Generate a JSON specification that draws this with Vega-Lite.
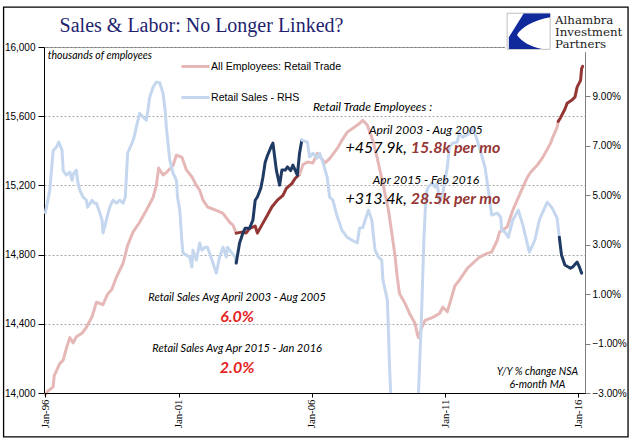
{
  "$schema": "https://vega.github.io/schema/vega-lite/v6.json",
  "width": 541,
  "height": 346,
  "autosize": {"type": "none"},
  "padding": {"left": 44, "top": 47, "right": 56, "bottom": 50},
  "background": "white",
  "datasets": {
    "emp": [
      {"date": "1996-01-01", "v": 13990, "s": "All Employees: Retail Trade", "seg": "e1"},
      {"date": "1996-02-01", "v": 14010, "s": "All Employees: Retail Trade", "seg": "e1"},
      {"date": "1996-04-01", "v": 14030, "s": "All Employees: Retail Trade", "seg": "e1"},
      {"date": "1996-04-16", "v": 14035, "s": "All Employees: Retail Trade", "seg": "e1"},
      {"date": "1996-05-01", "v": 14100, "s": "All Employees: Retail Trade", "seg": "e1"},
      {"date": "1996-07-16", "v": 14170, "s": "All Employees: Retail Trade", "seg": "e1"},
      {"date": "1996-09-01", "v": 14190, "s": "All Employees: Retail Trade", "seg": "e1"},
      {"date": "1996-10-16", "v": 14260, "s": "All Employees: Retail Trade", "seg": "e1"},
      {"date": "1996-12-01", "v": 14320, "s": "All Employees: Retail Trade", "seg": "e1"},
      {"date": "1997-01-16", "v": 14290, "s": "All Employees: Retail Trade", "seg": "e1"},
      {"date": "1997-03-01", "v": 14325, "s": "All Employees: Retail Trade", "seg": "e1"},
      {"date": "1997-05-16", "v": 14345, "s": "All Employees: Retail Trade", "seg": "e1"},
      {"date": "1997-07-16", "v": 14380, "s": "All Employees: Retail Trade", "seg": "e1"},
      {"date": "1997-10-01", "v": 14440, "s": "All Employees: Retail Trade", "seg": "e1"},
      {"date": "1997-12-01", "v": 14525, "s": "All Employees: Retail Trade", "seg": "e1"},
      {"date": "1998-03-01", "v": 14510, "s": "All Employees: Retail Trade", "seg": "e1"},
      {"date": "1998-05-01", "v": 14570, "s": "All Employees: Retail Trade", "seg": "e1"},
      {"date": "1998-07-01", "v": 14600, "s": "All Employees: Retail Trade", "seg": "e1"},
      {"date": "1998-09-01", "v": 14670, "s": "All Employees: Retail Trade", "seg": "e1"},
      {"date": "1998-12-01", "v": 14750, "s": "All Employees: Retail Trade", "seg": "e1"},
      {"date": "1999-02-01", "v": 14853, "s": "All Employees: Retail Trade", "seg": "e1"},
      {"date": "1999-04-16", "v": 14930, "s": "All Employees: Retail Trade", "seg": "e1"},
      {"date": "1999-07-16", "v": 14987, "s": "All Employees: Retail Trade", "seg": "e1"},
      {"date": "1999-10-16", "v": 15056, "s": "All Employees: Retail Trade", "seg": "e1"},
      {"date": "2000-01-16", "v": 15130, "s": "All Employees: Retail Trade", "seg": "e1"},
      {"date": "2000-03-01", "v": 15200, "s": "All Employees: Retail Trade", "seg": "e1"},
      {"date": "2000-04-01", "v": 15300, "s": "All Employees: Retail Trade", "seg": "e1"},
      {"date": "2000-06-01", "v": 15260, "s": "All Employees: Retail Trade", "seg": "e1"},
      {"date": "2000-07-16", "v": 15275, "s": "All Employees: Retail Trade", "seg": "e1"},
      {"date": "2000-10-16", "v": 15315, "s": "All Employees: Retail Trade", "seg": "e1"},
      {"date": "2000-12-01", "v": 15375, "s": "All Employees: Retail Trade", "seg": "e1"},
      {"date": "2001-02-16", "v": 15362, "s": "All Employees: Retail Trade", "seg": "e1"},
      {"date": "2001-04-16", "v": 15290, "s": "All Employees: Retail Trade", "seg": "e1"},
      {"date": "2001-07-01", "v": 15250, "s": "All Employees: Retail Trade", "seg": "e1"},
      {"date": "2001-09-01", "v": 15200, "s": "All Employees: Retail Trade", "seg": "e1"},
      {"date": "2001-10-16", "v": 15172, "s": "All Employees: Retail Trade", "seg": "e1"},
      {"date": "2001-12-01", "v": 15115, "s": "All Employees: Retail Trade", "seg": "e1"},
      {"date": "2002-02-01", "v": 15075, "s": "All Employees: Retail Trade", "seg": "e1"},
      {"date": "2002-06-01", "v": 15056, "s": "All Employees: Retail Trade", "seg": "e1"},
      {"date": "2002-09-01", "v": 15038, "s": "All Employees: Retail Trade", "seg": "e1"},
      {"date": "2002-12-01", "v": 14987, "s": "All Employees: Retail Trade", "seg": "e1"},
      {"date": "2003-01-16", "v": 14970, "s": "All Employees: Retail Trade", "seg": "e1"},
      {"date": "2003-03-01", "v": 14924, "s": "All Employees: Retail Trade", "seg": "e1"},
      {"date": "2003-03-01", "v": 14924, "s": "Retail Trade Employees (highlight)", "seg": "e2"},
      {"date": "2003-05-16", "v": 14930, "s": "Retail Trade Employees (highlight)", "seg": "e2"},
      {"date": "2003-07-16", "v": 14925, "s": "Retail Trade Employees (highlight)", "seg": "e2"},
      {"date": "2003-09-01", "v": 14952, "s": "Retail Trade Employees (highlight)", "seg": "e2"},
      {"date": "2003-11-16", "v": 14965, "s": "Retail Trade Employees (highlight)", "seg": "e2"},
      {"date": "2003-12-16", "v": 14924, "s": "Retail Trade Employees (highlight)", "seg": "e2"},
      {"date": "2004-03-01", "v": 14982, "s": "Retail Trade Employees (highlight)", "seg": "e2"},
      {"date": "2004-05-01", "v": 15027, "s": "Retail Trade Employees (highlight)", "seg": "e2"},
      {"date": "2004-07-01", "v": 15075, "s": "Retail Trade Employees (highlight)", "seg": "e2"},
      {"date": "2004-09-16", "v": 15115, "s": "Retail Trade Employees (highlight)", "seg": "e2"},
      {"date": "2004-12-01", "v": 15142, "s": "Retail Trade Employees (highlight)", "seg": "e2"},
      {"date": "2005-01-16", "v": 15183, "s": "Retail Trade Employees (highlight)", "seg": "e2"},
      {"date": "2005-04-01", "v": 15210, "s": "Retail Trade Employees (highlight)", "seg": "e2"},
      {"date": "2005-05-16", "v": 15240, "s": "Retail Trade Employees (highlight)", "seg": "e2"},
      {"date": "2005-07-16", "v": 15265, "s": "Retail Trade Employees (highlight)", "seg": "e2"},
      {"date": "2005-07-16", "v": 15265, "s": "All Employees: Retail Trade", "seg": "e3"},
      {"date": "2005-09-01", "v": 15320, "s": "All Employees: Retail Trade", "seg": "e3"},
      {"date": "2005-11-01", "v": 15335, "s": "All Employees: Retail Trade", "seg": "e3"},
      {"date": "2006-01-16", "v": 15330, "s": "All Employees: Retail Trade", "seg": "e3"},
      {"date": "2006-03-16", "v": 15385, "s": "All Employees: Retail Trade", "seg": "e3"},
      {"date": "2006-07-01", "v": 15330, "s": "All Employees: Retail Trade", "seg": "e3"},
      {"date": "2006-09-01", "v": 15355, "s": "All Employees: Retail Trade", "seg": "e3"},
      {"date": "2006-12-16", "v": 15414, "s": "All Employees: Retail Trade", "seg": "e3"},
      {"date": "2007-02-16", "v": 15460, "s": "All Employees: Retail Trade", "seg": "e3"},
      {"date": "2007-05-01", "v": 15508, "s": "All Employees: Retail Trade", "seg": "e3"},
      {"date": "2007-07-16", "v": 15530, "s": "All Employees: Retail Trade", "seg": "e3"},
      {"date": "2007-10-16", "v": 15558, "s": "All Employees: Retail Trade", "seg": "e3"},
      {"date": "2007-12-01", "v": 15576, "s": "All Employees: Retail Trade", "seg": "e3"},
      {"date": "2008-02-01", "v": 15547, "s": "All Employees: Retail Trade", "seg": "e3"},
      {"date": "2008-04-16", "v": 15460, "s": "All Employees: Retail Trade", "seg": "e3"},
      {"date": "2008-06-16", "v": 15356, "s": "All Employees: Retail Trade", "seg": "e3"},
      {"date": "2008-09-01", "v": 15210, "s": "All Employees: Retail Trade", "seg": "e3"},
      {"date": "2008-11-16", "v": 15056, "s": "All Employees: Retail Trade", "seg": "e3"},
      {"date": "2009-01-01", "v": 14924, "s": "All Employees: Retail Trade", "seg": "e3"},
      {"date": "2009-02-16", "v": 14787, "s": "All Employees: Retail Trade", "seg": "e3"},
      {"date": "2009-03-16", "v": 14670, "s": "All Employees: Retail Trade", "seg": "e3"},
      {"date": "2009-04-16", "v": 14575, "s": "All Employees: Retail Trade", "seg": "e3"},
      {"date": "2009-07-01", "v": 14518, "s": "All Employees: Retail Trade", "seg": "e3"},
      {"date": "2009-09-01", "v": 14460, "s": "All Employees: Retail Trade", "seg": "e3"},
      {"date": "2009-11-16", "v": 14402, "s": "All Employees: Retail Trade", "seg": "e3"},
      {"date": "2009-12-16", "v": 14340, "s": "All Employees: Retail Trade", "seg": "e3"},
      {"date": "2010-01-01", "v": 14320, "s": "All Employees: Retail Trade", "seg": "e3"},
      {"date": "2010-02-16", "v": 14380, "s": "All Employees: Retail Trade", "seg": "e3"},
      {"date": "2010-04-01", "v": 14420, "s": "All Employees: Retail Trade", "seg": "e3"},
      {"date": "2010-07-16", "v": 14437, "s": "All Employees: Retail Trade", "seg": "e3"},
      {"date": "2010-10-16", "v": 14460, "s": "All Employees: Retail Trade", "seg": "e3"},
      {"date": "2010-12-01", "v": 14496, "s": "All Employees: Retail Trade", "seg": "e3"},
      {"date": "2011-02-01", "v": 14470, "s": "All Employees: Retail Trade", "seg": "e3"},
      {"date": "2011-04-01", "v": 14555, "s": "All Employees: Retail Trade", "seg": "e3"},
      {"date": "2011-05-16", "v": 14620, "s": "All Employees: Retail Trade", "seg": "e3"},
      {"date": "2011-07-16", "v": 14652, "s": "All Employees: Retail Trade", "seg": "e3"},
      {"date": "2011-11-01", "v": 14720, "s": "All Employees: Retail Trade", "seg": "e3"},
      {"date": "2012-01-16", "v": 14750, "s": "All Employees: Retail Trade", "seg": "e3"},
      {"date": "2012-04-16", "v": 14785, "s": "All Employees: Retail Trade", "seg": "e3"},
      {"date": "2012-08-01", "v": 14807, "s": "All Employees: Retail Trade", "seg": "e3"},
      {"date": "2012-10-01", "v": 14815, "s": "All Employees: Retail Trade", "seg": "e3"},
      {"date": "2012-12-16", "v": 14883, "s": "All Employees: Retail Trade", "seg": "e3"},
      {"date": "2013-01-16", "v": 14930, "s": "All Employees: Retail Trade", "seg": "e3"},
      {"date": "2013-05-01", "v": 14960, "s": "All Employees: Retail Trade", "seg": "e3"},
      {"date": "2013-07-16", "v": 15056, "s": "All Employees: Retail Trade", "seg": "e3"},
      {"date": "2013-11-01", "v": 15160, "s": "All Employees: Retail Trade", "seg": "e3"},
      {"date": "2014-02-01", "v": 15246, "s": "All Employees: Retail Trade", "seg": "e3"},
      {"date": "2014-03-16", "v": 15275, "s": "All Employees: Retail Trade", "seg": "e3"},
      {"date": "2014-06-16", "v": 15316, "s": "All Employees: Retail Trade", "seg": "e3"},
      {"date": "2014-09-01", "v": 15362, "s": "All Employees: Retail Trade", "seg": "e3"},
      {"date": "2014-12-16", "v": 15443, "s": "All Employees: Retail Trade", "seg": "e3"},
      {"date": "2015-01-16", "v": 15478, "s": "All Employees: Retail Trade", "seg": "e3"},
      {"date": "2015-03-16", "v": 15535, "s": "All Employees: Retail Trade", "seg": "e3"},
      {"date": "2015-04-01", "v": 15570, "s": "All Employees: Retail Trade", "seg": "e3"},
      {"date": "2015-04-01", "v": 15570, "s": "Retail Trade Employees (highlight)", "seg": "e4"},
      {"date": "2015-05-01", "v": 15590, "s": "Retail Trade Employees (highlight)", "seg": "e4"},
      {"date": "2015-07-01", "v": 15640, "s": "Retail Trade Employees (highlight)", "seg": "e4"},
      {"date": "2015-08-01", "v": 15675, "s": "Retail Trade Employees (highlight)", "seg": "e4"},
      {"date": "2015-10-01", "v": 15692, "s": "Retail Trade Employees (highlight)", "seg": "e4"},
      {"date": "2015-11-16", "v": 15710, "s": "Retail Trade Employees (highlight)", "seg": "e4"},
      {"date": "2015-12-16", "v": 15768, "s": "Retail Trade Employees (highlight)", "seg": "e4"},
      {"date": "2016-02-01", "v": 15807, "s": "Retail Trade Employees (highlight)", "seg": "e4"},
      {"date": "2016-02-16", "v": 15876, "s": "Retail Trade Employees (highlight)", "seg": "e4"},
      {"date": "2016-03-01", "v": 15888, "s": "Retail Trade Employees (highlight)", "seg": "e4"}
    ],
    "sales": [
      {"date": "1996-01-01", "v": 4.3, "s": "Retail Sales - RHS", "seg": "s1"},
      {"date": "1996-03-01", "v": 5.2, "s": "Retail Sales - RHS", "seg": "s1"},
      {"date": "1996-04-16", "v": 6.8, "s": "Retail Sales - RHS", "seg": "s1"},
      {"date": "1996-06-01", "v": 6.95, "s": "Retail Sales - RHS", "seg": "s1"},
      {"date": "1996-07-01", "v": 7.15, "s": "Retail Sales - RHS", "seg": "s1"},
      {"date": "1996-08-16", "v": 6.83, "s": "Retail Sales - RHS", "seg": "s1"},
      {"date": "1996-09-01", "v": 6.0, "s": "Retail Sales - RHS", "seg": "s1"},
      {"date": "1996-10-16", "v": 5.82, "s": "Retail Sales - RHS", "seg": "s1"},
      {"date": "1996-12-01", "v": 5.94, "s": "Retail Sales - RHS", "seg": "s1"},
      {"date": "1997-01-01", "v": 5.61, "s": "Retail Sales - RHS", "seg": "s1"},
      {"date": "1997-01-16", "v": 5.85, "s": "Retail Sales - RHS", "seg": "s1"},
      {"date": "1997-03-01", "v": 6.02, "s": "Retail Sales - RHS", "seg": "s1"},
      {"date": "1997-03-16", "v": 5.6, "s": "Retail Sales - RHS", "seg": "s1"},
      {"date": "1997-04-16", "v": 5.21, "s": "Retail Sales - RHS", "seg": "s1"},
      {"date": "1997-06-01", "v": 4.93, "s": "Retail Sales - RHS", "seg": "s1"},
      {"date": "1997-07-16", "v": 4.8, "s": "Retail Sales - RHS", "seg": "s1"},
      {"date": "1997-08-01", "v": 4.52, "s": "Retail Sales - RHS", "seg": "s1"},
      {"date": "1997-10-01", "v": 4.8, "s": "Retail Sales - RHS", "seg": "s1"},
      {"date": "1997-11-01", "v": 4.68, "s": "Retail Sales - RHS", "seg": "s1"},
      {"date": "1997-12-01", "v": 4.68, "s": "Retail Sales - RHS", "seg": "s1"},
      {"date": "1998-01-16", "v": 4.28, "s": "Retail Sales - RHS", "seg": "s1"},
      {"date": "1998-02-16", "v": 4.0, "s": "Retail Sales - RHS", "seg": "s1"},
      {"date": "1998-03-01", "v": 3.47, "s": "Retail Sales - RHS", "seg": "s1"},
      {"date": "1998-04-16", "v": 4.0, "s": "Retail Sales - RHS", "seg": "s1"},
      {"date": "1998-06-01", "v": 4.52, "s": "Retail Sales - RHS", "seg": "s1"},
      {"date": "1998-07-16", "v": 4.8, "s": "Retail Sales - RHS", "seg": "s1"},
      {"date": "1998-09-01", "v": 4.68, "s": "Retail Sales - RHS", "seg": "s1"},
      {"date": "1998-10-16", "v": 4.8, "s": "Retail Sales - RHS", "seg": "s1"},
      {"date": "1998-12-01", "v": 4.68, "s": "Retail Sales - RHS", "seg": "s1"},
      {"date": "1999-01-01", "v": 4.93, "s": "Retail Sales - RHS", "seg": "s1"},
      {"date": "1999-02-01", "v": 6.7, "s": "Retail Sales - RHS", "seg": "s1"},
      {"date": "1999-04-01", "v": 7.1, "s": "Retail Sales - RHS", "seg": "s1"},
      {"date": "1999-05-01", "v": 7.35, "s": "Retail Sales - RHS", "seg": "s1"},
      {"date": "1999-06-01", "v": 7.76, "s": "Retail Sales - RHS", "seg": "s1"},
      {"date": "1999-07-16", "v": 8.32, "s": "Retail Sales - RHS", "seg": "s1"},
      {"date": "1999-09-01", "v": 8.16, "s": "Retail Sales - RHS", "seg": "s1"},
      {"date": "1999-10-16", "v": 8.04, "s": "Retail Sales - RHS", "seg": "s1"},
      {"date": "1999-11-01", "v": 8.32, "s": "Retail Sales - RHS", "seg": "s1"},
      {"date": "1999-12-01", "v": 8.97, "s": "Retail Sales - RHS", "seg": "s1"},
      {"date": "2000-01-16", "v": 9.37, "s": "Retail Sales - RHS", "seg": "s1"},
      {"date": "2000-03-01", "v": 9.58, "s": "Retail Sales - RHS", "seg": "s1"},
      {"date": "2000-04-16", "v": 9.55, "s": "Retail Sales - RHS", "seg": "s1"},
      {"date": "2000-06-01", "v": 9.13, "s": "Retail Sales - RHS", "seg": "s1"},
      {"date": "2000-07-01", "v": 8.4, "s": "Retail Sales - RHS", "seg": "s1"},
      {"date": "2000-07-16", "v": 7.76, "s": "Retail Sales - RHS", "seg": "s1"},
      {"date": "2000-09-01", "v": 6.42, "s": "Retail Sales - RHS", "seg": "s1"},
      {"date": "2000-10-16", "v": 5.9, "s": "Retail Sales - RHS", "seg": "s1"},
      {"date": "2000-12-01", "v": 5.61, "s": "Retail Sales - RHS", "seg": "s1"},
      {"date": "2000-12-16", "v": 4.93, "s": "Retail Sales - RHS", "seg": "s1"},
      {"date": "2001-01-16", "v": 4.4, "s": "Retail Sales - RHS", "seg": "s1"},
      {"date": "2001-02-16", "v": 3.07, "s": "Retail Sales - RHS", "seg": "s1"},
      {"date": "2001-03-01", "v": 2.66, "s": "Retail Sales - RHS", "seg": "s1"},
      {"date": "2001-04-16", "v": 2.58, "s": "Retail Sales - RHS", "seg": "s1"},
      {"date": "2001-06-01", "v": 2.5, "s": "Retail Sales - RHS", "seg": "s1"},
      {"date": "2001-07-01", "v": 2.1, "s": "Retail Sales - RHS", "seg": "s1"},
      {"date": "2001-07-16", "v": 2.78, "s": "Retail Sales - RHS", "seg": "s1"},
      {"date": "2001-09-01", "v": 2.38, "s": "Retail Sales - RHS", "seg": "s1"},
      {"date": "2001-10-16", "v": 3.07, "s": "Retail Sales - RHS", "seg": "s1"},
      {"date": "2001-11-16", "v": 2.78, "s": "Retail Sales - RHS", "seg": "s1"},
      {"date": "2002-01-01", "v": 2.9, "s": "Retail Sales - RHS", "seg": "s1"},
      {"date": "2002-02-01", "v": 2.9, "s": "Retail Sales - RHS", "seg": "s1"},
      {"date": "2002-03-01", "v": 2.66, "s": "Retail Sales - RHS", "seg": "s1"},
      {"date": "2002-04-16", "v": 2.26, "s": "Retail Sales - RHS", "seg": "s1"},
      {"date": "2002-06-01", "v": 1.85, "s": "Retail Sales - RHS", "seg": "s1"},
      {"date": "2002-07-16", "v": 2.5, "s": "Retail Sales - RHS", "seg": "s1"},
      {"date": "2002-09-01", "v": 2.9, "s": "Retail Sales - RHS", "seg": "s1"},
      {"date": "2002-10-16", "v": 2.5, "s": "Retail Sales - RHS", "seg": "s1"},
      {"date": "2002-11-01", "v": 2.9, "s": "Retail Sales - RHS", "seg": "s1"},
      {"date": "2003-01-01", "v": 2.66, "s": "Retail Sales - RHS", "seg": "s1"},
      {"date": "2003-02-16", "v": 2.5, "s": "Retail Sales - RHS", "seg": "s1"},
      {"date": "2003-03-01", "v": 2.26, "s": "Retail Sales - RHS", "seg": "s1"},
      {"date": "2003-03-01", "v": 2.26, "s": "Retail Sales (highlight)", "seg": "s2"},
      {"date": "2003-04-16", "v": 3.07, "s": "Retail Sales (highlight)", "seg": "s2"},
      {"date": "2003-06-01", "v": 3.47, "s": "Retail Sales (highlight)", "seg": "s2"},
      {"date": "2003-07-01", "v": 3.67, "s": "Retail Sales (highlight)", "seg": "s2"},
      {"date": "2003-09-01", "v": 3.67, "s": "Retail Sales (highlight)", "seg": "s2"},
      {"date": "2003-10-16", "v": 4.0, "s": "Retail Sales (highlight)", "seg": "s2"},
      {"date": "2003-11-16", "v": 4.8, "s": "Retail Sales (highlight)", "seg": "s2"},
      {"date": "2003-12-16", "v": 4.93, "s": "Retail Sales (highlight)", "seg": "s2"},
      {"date": "2004-02-01", "v": 5.29, "s": "Retail Sales (highlight)", "seg": "s2"},
      {"date": "2004-03-01", "v": 5.73, "s": "Retail Sales (highlight)", "seg": "s2"},
      {"date": "2004-04-01", "v": 6.34, "s": "Retail Sales (highlight)", "seg": "s2"},
      {"date": "2004-05-01", "v": 6.6, "s": "Retail Sales (highlight)", "seg": "s2"},
      {"date": "2004-07-01", "v": 7.03, "s": "Retail Sales (highlight)", "seg": "s2"},
      {"date": "2004-07-16", "v": 7.11, "s": "Retail Sales (highlight)", "seg": "s2"},
      {"date": "2004-09-01", "v": 6.02, "s": "Retail Sales (highlight)", "seg": "s2"},
      {"date": "2004-10-16", "v": 5.41, "s": "Retail Sales (highlight)", "seg": "s2"},
      {"date": "2004-11-16", "v": 6.02, "s": "Retail Sales (highlight)", "seg": "s2"},
      {"date": "2005-01-01", "v": 6.02, "s": "Retail Sales (highlight)", "seg": "s2"},
      {"date": "2005-02-01", "v": 6.15, "s": "Retail Sales (highlight)", "seg": "s2"},
      {"date": "2005-03-16", "v": 6.0, "s": "Retail Sales (highlight)", "seg": "s2"},
      {"date": "2005-04-16", "v": 6.22, "s": "Retail Sales (highlight)", "seg": "s2"},
      {"date": "2005-06-16", "v": 5.82, "s": "Retail Sales (highlight)", "seg": "s2"},
      {"date": "2005-07-16", "v": 6.7, "s": "Retail Sales (highlight)", "seg": "s2"},
      {"date": "2005-08-16", "v": 7.23, "s": "Retail Sales (highlight)", "seg": "s2"},
      {"date": "2005-08-16", "v": 7.23, "s": "Retail Sales - RHS", "seg": "s3"},
      {"date": "2005-11-01", "v": 7.15, "s": "Retail Sales - RHS", "seg": "s3"},
      {"date": "2005-12-01", "v": 6.55, "s": "Retail Sales - RHS", "seg": "s3"},
      {"date": "2006-01-16", "v": 6.7, "s": "Retail Sales - RHS", "seg": "s3"},
      {"date": "2006-03-16", "v": 6.5, "s": "Retail Sales - RHS", "seg": "s3"},
      {"date": "2006-04-16", "v": 6.7, "s": "Retail Sales - RHS", "seg": "s3"},
      {"date": "2006-06-01", "v": 6.34, "s": "Retail Sales - RHS", "seg": "s3"},
      {"date": "2006-08-01", "v": 5.7, "s": "Retail Sales - RHS", "seg": "s3"},
      {"date": "2006-09-01", "v": 4.93, "s": "Retail Sales - RHS", "seg": "s3"},
      {"date": "2006-10-16", "v": 4.8, "s": "Retail Sales - RHS", "seg": "s3"},
      {"date": "2006-12-16", "v": 4.12, "s": "Retail Sales - RHS", "seg": "s3"},
      {"date": "2007-01-16", "v": 3.87, "s": "Retail Sales - RHS", "seg": "s3"},
      {"date": "2007-02-16", "v": 3.59, "s": "Retail Sales - RHS", "seg": "s3"},
      {"date": "2007-05-01", "v": 3.3, "s": "Retail Sales - RHS", "seg": "s3"},
      {"date": "2007-07-01", "v": 3.19, "s": "Retail Sales - RHS", "seg": "s3"},
      {"date": "2007-09-16", "v": 3.07, "s": "Retail Sales - RHS", "seg": "s3"},
      {"date": "2007-10-16", "v": 3.67, "s": "Retail Sales - RHS", "seg": "s3"},
      {"date": "2007-12-01", "v": 3.7, "s": "Retail Sales - RHS", "seg": "s3"},
      {"date": "2008-01-01", "v": 3.99, "s": "Retail Sales - RHS", "seg": "s3"},
      {"date": "2008-02-16", "v": 4.4, "s": "Retail Sales - RHS", "seg": "s3"},
      {"date": "2008-04-01", "v": 4.0, "s": "Retail Sales - RHS", "seg": "s3"},
      {"date": "2008-05-16", "v": 2.78, "s": "Retail Sales - RHS", "seg": "s3"},
      {"date": "2008-07-01", "v": 2.5, "s": "Retail Sales - RHS", "seg": "s3"},
      {"date": "2008-08-16", "v": 2.38, "s": "Retail Sales - RHS", "seg": "s3"},
      {"date": "2008-09-01", "v": 1.57, "s": "Retail Sales - RHS", "seg": "s3"},
      {"date": "2008-11-01", "v": 0.76, "s": "Retail Sales - RHS", "seg": "s3"},
      {"date": "2008-11-16", "v": -0.57, "s": "Retail Sales - RHS", "seg": "s3"},
      {"date": "2008-12-01", "v": -1.95, "s": "Retail Sales - RHS", "seg": "s3"},
      {"date": "2008-12-16", "v": -3.0, "s": "Retail Sales - RHS", "seg": "s3"},
      {"date": "2009-02-16", "v": -6.0, "s": "Retail Sales - RHS", "seg": "s3"},
      {"date": "2009-04-16", "v": -9.0, "s": "Retail Sales - RHS", "seg": "s3"},
      {"date": "2009-07-01", "v": -10.0, "s": "Retail Sales - RHS", "seg": "s3"},
      {"date": "2009-09-01", "v": -9.5, "s": "Retail Sales - RHS", "seg": "s3"},
      {"date": "2009-11-01", "v": -6.5, "s": "Retail Sales - RHS", "seg": "s3"},
      {"date": "2010-01-01", "v": -3.0, "s": "Retail Sales - RHS", "seg": "s3"},
      {"date": "2010-01-16", "v": -1.95, "s": "Retail Sales - RHS", "seg": "s3"},
      {"date": "2010-02-16", "v": 0.5, "s": "Retail Sales - RHS", "seg": "s3"},
      {"date": "2010-03-16", "v": 3.2, "s": "Retail Sales - RHS", "seg": "s3"},
      {"date": "2010-04-16", "v": 5.1, "s": "Retail Sales - RHS", "seg": "s3"},
      {"date": "2010-05-16", "v": 5.33, "s": "Retail Sales - RHS", "seg": "s3"},
      {"date": "2010-07-01", "v": 5.49, "s": "Retail Sales - RHS", "seg": "s3"},
      {"date": "2010-08-16", "v": 5.33, "s": "Retail Sales - RHS", "seg": "s3"},
      {"date": "2010-09-16", "v": 5.49, "s": "Retail Sales - RHS", "seg": "s3"},
      {"date": "2010-10-16", "v": 4.68, "s": "Retail Sales - RHS", "seg": "s3"},
      {"date": "2010-12-01", "v": 5.09, "s": "Retail Sales - RHS", "seg": "s3"},
      {"date": "2011-02-01", "v": 6.14, "s": "Retail Sales - RHS", "seg": "s3"},
      {"date": "2011-03-01", "v": 6.95, "s": "Retail Sales - RHS", "seg": "s3"},
      {"date": "2011-04-16", "v": 7.11, "s": "Retail Sales - RHS", "seg": "s3"},
      {"date": "2011-06-16", "v": 7.15, "s": "Retail Sales - RHS", "seg": "s3"},
      {"date": "2011-07-16", "v": 7.51, "s": "Retail Sales - RHS", "seg": "s3"},
      {"date": "2011-09-01", "v": 7.35, "s": "Retail Sales - RHS", "seg": "s3"},
      {"date": "2011-12-01", "v": 7.51, "s": "Retail Sales - RHS", "seg": "s3"},
      {"date": "2012-01-16", "v": 7.76, "s": "Retail Sales - RHS", "seg": "s3"},
      {"date": "2012-03-16", "v": 7.23, "s": "Retail Sales - RHS", "seg": "s3"},
      {"date": "2012-05-16", "v": 6.62, "s": "Retail Sales - RHS", "seg": "s3"},
      {"date": "2012-07-01", "v": 6.14, "s": "Retail Sales - RHS", "seg": "s3"},
      {"date": "2012-08-16", "v": 5.21, "s": "Retail Sales - RHS", "seg": "s3"},
      {"date": "2012-10-01", "v": 4.2, "s": "Retail Sales - RHS", "seg": "s3"},
      {"date": "2012-12-16", "v": 4.28, "s": "Retail Sales - RHS", "seg": "s3"},
      {"date": "2013-02-01", "v": 4.12, "s": "Retail Sales - RHS", "seg": "s3"},
      {"date": "2013-02-16", "v": 3.59, "s": "Retail Sales - RHS", "seg": "s3"},
      {"date": "2013-04-01", "v": 3.51, "s": "Retail Sales - RHS", "seg": "s3"},
      {"date": "2013-05-16", "v": 3.3, "s": "Retail Sales - RHS", "seg": "s3"},
      {"date": "2013-07-16", "v": 3.99, "s": "Retail Sales - RHS", "seg": "s3"},
      {"date": "2013-10-01", "v": 4.4, "s": "Retail Sales - RHS", "seg": "s3"},
      {"date": "2013-12-01", "v": 3.8, "s": "Retail Sales - RHS", "seg": "s3"},
      {"date": "2014-03-01", "v": 2.7, "s": "Retail Sales - RHS", "seg": "s3"},
      {"date": "2014-05-16", "v": 3.19, "s": "Retail Sales - RHS", "seg": "s3"},
      {"date": "2014-07-16", "v": 4.0, "s": "Retail Sales - RHS", "seg": "s3"},
      {"date": "2014-11-01", "v": 4.72, "s": "Retail Sales - RHS", "seg": "s3"},
      {"date": "2015-01-01", "v": 4.52, "s": "Retail Sales - RHS", "seg": "s3"},
      {"date": "2015-03-16", "v": 4.08, "s": "Retail Sales - RHS", "seg": "s3"},
      {"date": "2015-04-16", "v": 3.3, "s": "Retail Sales - RHS", "seg": "s3"},
      {"date": "2015-04-16", "v": 3.3, "s": "Retail Sales (highlight)", "seg": "s4"},
      {"date": "2015-05-16", "v": 2.58, "s": "Retail Sales (highlight)", "seg": "s4"},
      {"date": "2015-07-01", "v": 2.18, "s": "Retail Sales (highlight)", "seg": "s4"},
      {"date": "2015-09-16", "v": 2.05, "s": "Retail Sales (highlight)", "seg": "s4"},
      {"date": "2015-10-16", "v": 2.1, "s": "Retail Sales (highlight)", "seg": "s4"},
      {"date": "2015-12-16", "v": 2.3, "s": "Retail Sales (highlight)", "seg": "s4"},
      {"date": "2016-01-16", "v": 2.1, "s": "Retail Sales (highlight)", "seg": "s4"},
      {"date": "2016-02-16", "v": 1.85, "s": "Retail Sales (highlight)", "seg": "s4"}
    ]
  },
  "layer": [
    {
      "layer": [
        {
          "data": {"name": "emp"},
          "mark": {"type": "line", "strokeWidth": 3, "strokeJoin": "round", "strokeCap": "round"},
          "encoding": {
            "x": {"field": "date", "type": "temporal", "title": null,
              "scale": {"type": "utc", "nice": false, "domain": [{"year": 1995, "month": 12, "date": 13, "utc": true}, {"year": 2016, "month": 4, "date": 2, "utc": true}]},
              "axis": {"values": [{"year": 1996, "month": 1, "date": 1, "utc": true}, {"year": 2001, "month": 1, "date": 1, "utc": true}, {"year": 2006, "month": 1, "date": 1, "utc": true}, {"year": 2011, "month": 1, "date": 1, "utc": true}, {"year": 2016, "month": 1, "date": 1, "utc": true}],
                "format": "%b-%y", "labelAngle": 270, "labelFont": "Liberation Serif", "labelFontSize": 10.8, "labelColor": "black", "tickSize": 4, "tickColor": "black", "domainColor": "black", "labelPadding": 2, "grid": false, "zindex": 1, "labelOverlap": false, "labelFlush": false}},
            "y": {"field": "v", "type": "quantitative", "title": null,
              "scale": {"domain": [14000, 16000], "nice": false, "zero": false},
              "axis": {"orient": "left", "values": [14000, 14400, 14800, 15200, 15600, 16000], "labelExpr": "format(datum.value, ',.0f')", "grid": true, "gridColor": "#A6A6A6", "gridDash": [2, 2], "gridWidth": 1, "domainColor": "black", "tickColor": "black", "tickSize": 6, "labelFont": "Liberation Sans", "labelFontSize": 10, "labelColor": "black", "labelPadding": 3}},
            "color": {"field": "s", "type": "nominal",
              "scale": {"domain": ["All Employees: Retail Trade", "Retail Sales - RHS", "Retail Trade Employees (highlight)", "Retail Sales (highlight)"], "range": ["#E5B8B7", "#C5D7EF", "#943634", "#1F3A63"]},
              "legend": {"values": ["All Employees: Retail Trade", "Retail Sales - RHS"], "orient": "none", "legendX": 136, "legendY": 4, "title": null, "symbolType": "stroke", "symbolSize": 784, "symbolStrokeWidth": 3, "labelFont": "Liberation Sans", "labelFontSize": 10.6, "labelColor": "black", "labelOffset": 0, "rowPadding": 9, "padding": 0}},
            "detail": {"field": "seg"}
          }
        }
      ]
    },
    {
      "layer": [
        {
          "mark": {"type": "rule", "color": "black", "strokeWidth": 1, "strokeDash": [4, 3]},
          "encoding": {"y": {"datum": 3, "type": "quantitative", "scale": {"domain": [-3, 11], "nice": false, "zero": false}}}
        },
        {
          "data": {"name": "sales"},
          "mark": {"type": "line", "strokeWidth": 3, "strokeJoin": "round", "strokeCap": "round", "clip": true},
          "encoding": {
            "x": {"field": "date", "type": "temporal", "title": null,
              "scale": {"type": "utc", "nice": false, "domain": [{"year": 1995, "month": 12, "date": 13, "utc": true}, {"year": 2016, "month": 4, "date": 2, "utc": true}]},
              "axis": {"values": [{"year": 1996, "month": 1, "date": 1, "utc": true}, {"year": 2001, "month": 1, "date": 1, "utc": true}, {"year": 2006, "month": 1, "date": 1, "utc": true}, {"year": 2011, "month": 1, "date": 1, "utc": true}, {"year": 2016, "month": 1, "date": 1, "utc": true}],
                "format": "%b-%y", "labelAngle": 270, "labelFont": "Liberation Serif", "labelFontSize": 10.8, "labelColor": "black", "tickSize": 4, "tickColor": "black", "domainColor": "black", "labelPadding": 2, "grid": false, "zindex": 1, "labelOverlap": false, "labelFlush": false}},
            "y": {"field": "v", "type": "quantitative", "title": null,
              "scale": {"domain": [-3, 11], "nice": false, "zero": false},
              "axis": {"orient": "right", "values": [-3, -1, 1, 3, 5, 7, 9], "labelExpr": "format(datum.value, '.2f') + '%'", "grid": false, "domainColor": "#7F7F7F", "tickColor": "#7F7F7F", "tickSize": 5, "labelFont": "Liberation Sans", "labelFontSize": 10, "labelColor": "black", "labelPadding": 2}},
            "color": {"field": "s", "type": "nominal",
              "scale": {"domain": ["All Employees: Retail Trade", "Retail Sales - RHS", "Retail Trade Employees (highlight)", "Retail Sales (highlight)"], "range": ["#E5B8B7", "#C5D7EF", "#943634", "#1F3A63"]},
              "legend": {"values": ["All Employees: Retail Trade", "Retail Sales - RHS"], "orient": "none", "legendX": 136, "legendY": 4, "title": null, "symbolType": "stroke", "symbolSize": 784, "symbolStrokeWidth": 3, "labelFont": "Liberation Sans", "labelFontSize": 10.6, "labelColor": "black", "labelOffset": 0, "rowPadding": 9, "padding": 0}},
            "detail": {"field": "seg"}
          }
        }
      ]
    },
    {
      "encoding": {
        "x": {"field": "date", "type": "temporal", "title": null,
          "scale": {"type": "utc", "nice": false, "domain": [{"year": 1995, "month": 12, "date": 13, "utc": true}, {"year": 2016, "month": 4, "date": 2, "utc": true}]},
          "axis": {"values": [{"year": 1996, "month": 1, "date": 1, "utc": true}, {"year": 2001, "month": 1, "date": 1, "utc": true}, {"year": 2006, "month": 1, "date": 1, "utc": true}, {"year": 2011, "month": 1, "date": 1, "utc": true}, {"year": 2016, "month": 1, "date": 1, "utc": true}],
            "format": "%b-%y", "labelAngle": 270, "labelFont": "Liberation Serif", "labelFontSize": 10.8, "labelColor": "black", "tickSize": 4, "tickColor": "black", "domainColor": "black", "labelPadding": 2, "grid": false, "zindex": 1, "labelOverlap": false, "labelFlush": false}},
        "y": {"field": "v", "type": "quantitative", "title": null, "axis": null,
          "scale": {"domain": [14000, 16000], "nice": false, "zero": false}}
      },
      "layer": [
        {
          "data": {"values": [{"date": "1994-06-07", "date2": "2017-11-13", "v": 16230, "v2": 13746}]},
          "mark": {"type": "rect", "filled": false, "stroke": "#000000", "strokeWidth": 1.3},
          "encoding": {"x2": {"field": "date2"}, "y2": {"field": "v2"}}
        },
        {
          "data": {"values": [{"date": "2013-04-01", "date2": "2017-10-16", "v": 16218, "v2": 15970}]},
          "mark": {"type": "rect", "fill": "white", "strokeWidth": 0},
          "encoding": {"x2": {"field": "date2"}, "y2": {"field": "v2"}}
        },
        {
          "data": {"values": [{"date": "2014-02-19", "v": 16091}]},
          "mark": {"type": "point", "shape": "M-1,-0.84L1,-0.84L1,0.84L-1,0.84Z", "size": 1849, "filled": true, "fill": "white", "stroke": "#C0C0C0", "strokeWidth": 1, "opacity": 1}
        },
        {
          "data": {"values": [{"date": "2014-02-19", "v": 16091}]},
          "mark": {"type": "point", "shape": "M-0.23,-0.83L1,-0.83L1,-0.65C0.23,-0.52,-0.38,-0.14,-0.54,0.17C-0.31,0.48,0.08,0.71,0.62,0.83L-0.92,0.83L-0.92,0.28Z", "size": 1849, "filled": true, "fill": "#102A9C", "strokeWidth": 0, "opacity": 1}
        },
        {
          "data": {"values": [{"label": "Alhambra\nInvestment\nPartners", "date": "2015-02-16", "v": 16131}]},
          "mark": {"type": "text", "align": "left", "baseline": "alphabetic", "lineBreak": "\n", "lineHeight": 11.8, "font": "DejaVu Serif", "fontSize": 11.8, "color": "#1A1A1A"},
          "encoding": {"text": {"field": "label"}}
        },
        {
          "data": {"values": [{"label": "Sales & Labor: No Longer Linked?", "date": "1996-07-14", "v": 16085}]},
          "mark": {"type": "text", "align": "left", "baseline": "alphabetic", "font": "Liberation Serif", "fontSize": 20, "color": "#1F1F6F"},
          "encoding": {"text": {"field": "label"}}
        },
        {
          "data": {"values": [{"label": "thousands of employees", "date": "1996-02-02", "v": 15947}]},
          "mark": {"type": "text", "align": "left", "baseline": "middle", "font": "Lato", "fontStyle": "italic", "fontSize": 10.5, "color": "black"},
          "encoding": {"text": {"field": "label"}}
        },
        {
          "data": {"values": [{"label": "Retail Trade Employees :", "date": "2006-01-16", "v": 15652}]},
          "mark": {"type": "text", "align": "left", "baseline": "middle", "font": "Lato", "fontStyle": "italic", "fontSize": 12, "color": "black"},
          "encoding": {"text": {"field": "label"}}
        },
        {
          "data": {"values": [{"label": "April 2003 - Aug 2005", "date": "2010-04-13", "v": 15519}, {"label": "Apr 2015 - Feb 2016", "date": "2010-04-13", "v": 15230}]},
          "mark": {"type": "text", "align": "center", "baseline": "middle", "font": "Lato", "fontStyle": "italic", "fontSize": 12, "color": "black"},
          "encoding": {"text": {"field": "label"}}
        },
        {
          "data": {"values": [{"label": "+457.9k,", "date": "2009-07-25", "v": 15415}, {"label": "+313.4k,", "date": "2009-07-25", "v": 15120}]},
          "mark": {"type": "text", "align": "right", "baseline": "middle", "font": "Lato", "fontStyle": "italic", "fontSize": 16, "color": "black"},
          "encoding": {"text": {"field": "label"}}
        },
        {
          "data": {"values": [{"label": "15.8k per mo", "date": "2009-09-18", "v": 15415}, {"label": "28.5k per mo", "date": "2009-09-18", "v": 15120}]},
          "mark": {"type": "text", "align": "left", "baseline": "middle", "font": "Lato", "fontStyle": "italic", "fontWeight": "bold", "fontSize": 16, "color": "#953735"},
          "encoding": {"text": {"field": "label"}}
        },
        {
          "data": {"values": [{"label": "Retail Sales Avg April 2003 - Aug 2005", "date": "2003-03-13", "v": 14549}, {"label": "Retail Sales Avg Apr 2015 - Jan 2016", "date": "2003-03-13", "v": 14254}]},
          "mark": {"type": "text", "align": "center", "baseline": "middle", "font": "Lato", "fontStyle": "italic", "fontSize": 11, "color": "black"},
          "encoding": {"text": {"field": "label"}}
        },
        {
          "data": {"values": [{"label": "6.0%", "date": "2003-03-13", "v": 14439}, {"label": "2.0%", "date": "2003-03-13", "v": 14145}]},
          "mark": {"type": "text", "align": "center", "baseline": "middle", "font": "Lato", "fontStyle": "italic", "fontWeight": "bold", "fontSize": 16, "color": "#E41F1F"},
          "encoding": {"text": {"field": "label"}}
        },
        {
          "data": {"values": [{"label": "Y/Y % change NSA", "date": "2014-06-19", "v": 14121}, {"label": "6-month MA", "date": "2014-06-19", "v": 14047}]},
          "mark": {"type": "text", "align": "center", "baseline": "middle", "font": "Lato", "fontStyle": "italic", "fontSize": 10.5, "color": "black"},
          "encoding": {"text": {"field": "label"}}
        }
      ]
    }
  ],
  "resolve": {"scale": {"y": "independent"}},
  "config": {
    "view": {"stroke": "#7F7F7F", "strokeWidth": 1},
    "axis": {"domainWidth": 1, "tickWidth": 1}
  }
}
